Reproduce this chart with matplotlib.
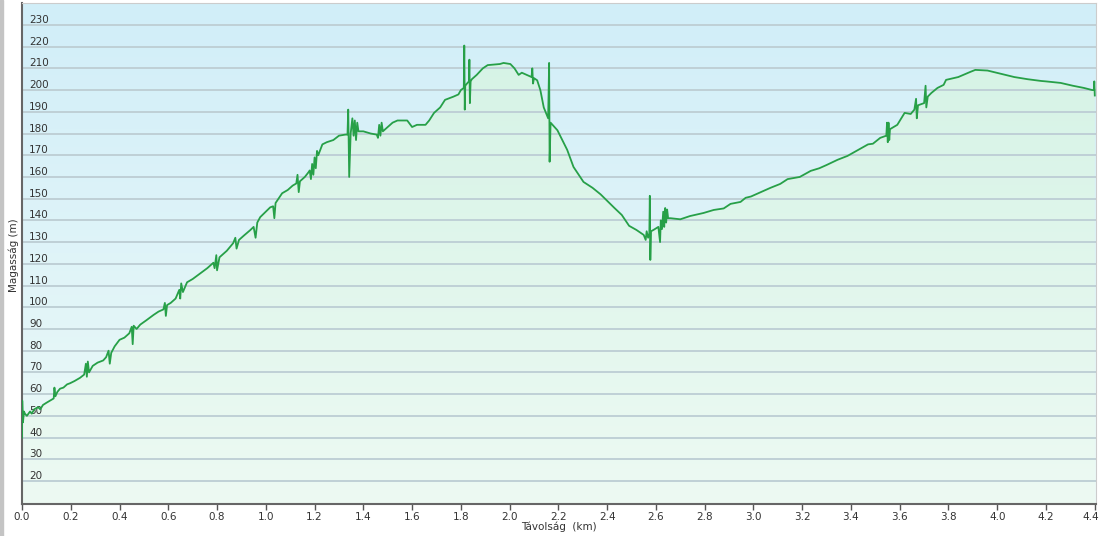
import numpy as np
import matplotlib
matplotlib.use('Agg')
import matplotlib.pyplot as plt
import matplotlib.transforms as mtransforms
from matplotlib.patches import Rectangle

# elevation profile (km, m)
dist_km = [
    0.000, 0.001, 0.004, 0.008, 0.012, 0.020, 0.033, 0.040, 0.050, 0.066,
    0.075, 0.086, 0.100, 0.115, 0.130, 0.133, 0.137, 0.145, 0.156, 0.170,
    0.185, 0.197, 0.215, 0.238, 0.255, 0.262, 0.266, 0.270, 0.275, 0.290,
    0.310, 0.333, 0.345, 0.355, 0.360, 0.366, 0.380, 0.400, 0.420, 0.440,
    0.450, 0.454, 0.458, 0.470, 0.485, 0.510, 0.540, 0.560, 0.580, 0.586,
    0.590, 0.595, 0.610, 0.630, 0.645, 0.649, 0.653, 0.660, 0.677, 0.700,
    0.730, 0.760, 0.785, 0.790, 0.797, 0.800, 0.810, 0.840, 0.866, 0.875,
    0.880, 0.890, 0.910, 0.936, 0.950, 0.958, 0.965, 0.977, 1.000, 1.018,
    1.030, 1.035, 1.040, 1.067, 1.090, 1.110, 1.125, 1.130, 1.135, 1.140,
    1.160, 1.174, 1.180, 1.185, 1.190, 1.195, 1.200, 1.205, 1.210, 1.215,
    1.232, 1.250, 1.277, 1.300, 1.326, 1.335, 1.338, 1.342, 1.348, 1.355,
    1.360, 1.365, 1.370, 1.375, 1.380, 1.400, 1.430, 1.455, 1.460, 1.465,
    1.470, 1.475, 1.480, 1.500, 1.520, 1.540, 1.580, 1.600, 1.620, 1.655,
    1.670, 1.690, 1.715, 1.735, 1.770, 1.790, 1.800, 1.812, 1.814, 1.816,
    1.818, 1.825, 1.833, 1.835, 1.837, 1.840, 1.845, 1.865, 1.890, 1.910,
    1.960, 1.975, 2.003, 2.020, 2.037, 2.050, 2.080, 2.090, 2.093, 2.096,
    2.100, 2.113, 2.126, 2.140, 2.158, 2.162, 2.164, 2.168, 2.196, 2.236,
    2.262, 2.303, 2.340, 2.373, 2.400, 2.430, 2.460, 2.490, 2.520, 2.550,
    2.558, 2.562, 2.568, 2.573, 2.575, 2.577, 2.580, 2.590, 2.610, 2.617,
    2.620, 2.625, 2.630, 2.634, 2.638, 2.642, 2.646, 2.650, 2.660, 2.700,
    2.740, 2.795, 2.837, 2.878, 2.906, 2.947, 2.968, 2.990, 3.030, 3.070,
    3.110, 3.140, 3.190, 3.235, 3.270, 3.300, 3.345, 3.386, 3.430, 3.470,
    3.490, 3.520, 3.545, 3.548, 3.551, 3.554, 3.557, 3.560, 3.590, 3.620,
    3.645, 3.660, 3.667, 3.670, 3.675, 3.700, 3.706, 3.709, 3.715, 3.730,
    3.755, 3.780, 3.790, 3.840, 3.890, 3.910, 3.960, 4.015, 4.070, 4.125,
    4.180, 4.200, 4.260, 4.310, 4.355, 4.390, 4.396, 4.398, 4.400,
]
elev_m = [
    40, 57, 47, 52, 51, 50, 52, 51, 53, 54,
    53, 55, 56, 57, 58, 63, 59, 61, 62.5, 63,
    64.5, 65, 66, 67.5, 69, 74, 68, 75, 70, 73,
    74.5, 75.5, 77, 80, 74, 79, 82, 85, 86, 88,
    91, 83, 91.5, 90, 92, 94, 96.5, 98, 99, 102,
    96, 101, 102, 104, 108, 104, 111, 107, 111.5, 113,
    115.5, 118, 120.5, 118, 124, 117, 123, 126, 129.5, 132,
    127, 131, 133, 135.5, 137, 132, 139, 141.5, 144, 146,
    146.5, 141, 148, 152.5, 154, 156, 157, 161, 153, 158,
    160, 162, 163, 159, 166, 161, 169, 164, 172, 170,
    175, 176, 177, 179, 179.5, 179.5, 191, 160, 180, 187,
    179, 186, 177, 185, 181, 181, 180, 179.5, 178, 184,
    179, 185, 181, 183, 185, 186, 186, 183, 184, 184,
    186, 189.5, 192, 195.5, 197, 198, 200, 201, 220.5, 191,
    202, 203, 204, 214, 194, 204, 205, 207, 210, 211.5,
    212, 212.5, 212, 210, 207, 208, 206.5, 206, 210, 203,
    205.5, 204.5, 200, 192, 187, 212.5, 167, 185, 181.5, 172.5,
    164.6, 157.7, 155, 152, 149, 145.7, 142.5, 137.5, 135.6, 133.3,
    131, 135, 132, 134, 151.3, 121.8, 135, 135.6, 137, 130,
    140, 136, 144, 137, 145.7, 139, 145, 141, 141, 140.5,
    142, 143.4, 144.8, 145.5, 147.6, 148.5, 150.4, 151, 153, 155,
    156.8, 159, 160, 162.8, 164, 165.5, 167.9, 169.7, 172.5, 175,
    175.3, 178, 179, 185, 176, 185, 177, 182, 184, 189.5,
    189, 191, 196, 187, 193, 194, 202, 192, 197, 198.7,
    201, 202.4, 204.7, 206, 208.4, 209.3, 209, 207.5, 206, 205,
    204.2, 204, 203.3, 202, 201, 200, 200, 204, 197.5,
]

x_ticks = [0.0, 0.2, 0.4, 0.6, 0.8, 1.0, 1.2, 1.4, 1.6, 1.8, 2.0, 2.2,
           2.4, 2.6, 2.8, 3.0, 3.2, 3.4, 3.6, 3.8, 4.0, 4.2, 4.4]
y_ticks = [20, 30, 40, 50, 60, 70, 80, 90, 100, 110, 120, 130, 140, 150,
           160, 170, 180, 190, 200, 210, 220, 230]

x0, x1 = 0.0, 4.405
y0, y1 = 9.4, 240.1

fig = plt.figure(figsize=(11, 5.36), dpi=100)
fig.patch.set_facecolor('white')
ax = fig.add_axes([22/1100, 32/536, 1074/1100, 501/536])

# background gradient, blue at top -> pale mint at bottom
top_c = np.array([209, 238, 249]) / 255
bot_c = np.array([237, 250, 247]) / 255
t = np.linspace(0, 1, 256)[:, None]
bg = top_c * (1 - t) + bot_c * t
ax.imshow(bg[:, None, :], extent=[x0, x1, y0, y1], aspect='auto', zorder=0,
          interpolation='bilinear')

# fill under the profile, green-ish gradient
ftop = np.array([214, 243, 230]) / 255
fbot = np.array([237, 250, 243]) / 255
fg = ftop * (1 - t) + fbot * t
poly = ax.fill_between(dist_km, elev_m, y0, facecolor='none', edgecolor='none')
im = ax.imshow(fg[:, None, :], extent=[x0, x1, y0, 215], aspect='auto',
               zorder=1, interpolation='bilinear')
im.set_clip_path(poly.get_paths()[0], transform=ax.transData)

ax.plot(dist_km, elev_m, color='#27a048', lw=1.3, zorder=3)

ax.set_xlim(x0, x1)
ax.set_ylim(y0, y1)

# horizontal grid lines
for yv in y_ticks:
    ax.axhline(yv, color='#bfd0d6', lw=1.4, zorder=2)

ax.set_xticks(x_ticks)
ax.set_xticklabels(['%.1f' % v for v in x_ticks], fontsize=7.5, color='#333333')
ax.tick_params(axis='x', direction='out', length=4, width=1, color='#555555', pad=1.5)
# last label sits right at the picture edge, nudge it in a little
last = ax.get_xticklabels()[-1]
last.set_transform(last.get_transform() +
                   mtransforms.ScaledTranslation(-4/100, 0, fig.dpi_scale_trans))

ax.set_yticks(y_ticks)
ax.set_yticklabels([str(v) for v in y_ticks], fontsize=7.5, color='#333333')
ax.tick_params(axis='y', direction='in', length=0, pad=-5)
for lab in ax.get_yticklabels():
    lab.set_horizontalalignment('left')
    lab.set_verticalalignment('bottom')

ax.spines['left'].set_color('#666666')
ax.spines['left'].set_linewidth(1.5)
ax.spines['bottom'].set_color('#666666')
ax.spines['bottom'].set_linewidth(1.5)
ax.spines['top'].set_color('#cccccc')
ax.spines['right'].set_color('#cccccc')

ax.set_xlabel('Távolság  (km)', fontsize=7.5, color='#333333', labelpad=0)
fig.text(14/1100, 1 - 255/536, 'Magasság (m)', rotation=90, fontsize=7.5,
         color='#333333', ha='center', va='center')

# grey strip on the left edge of the picture
fig.add_artist(Rectangle((0, 0), 3/1100, 1, transform=fig.transFigure,
                         color='#c4c4c4', zorder=0))

fig.savefig('out.png', dpi=100)
